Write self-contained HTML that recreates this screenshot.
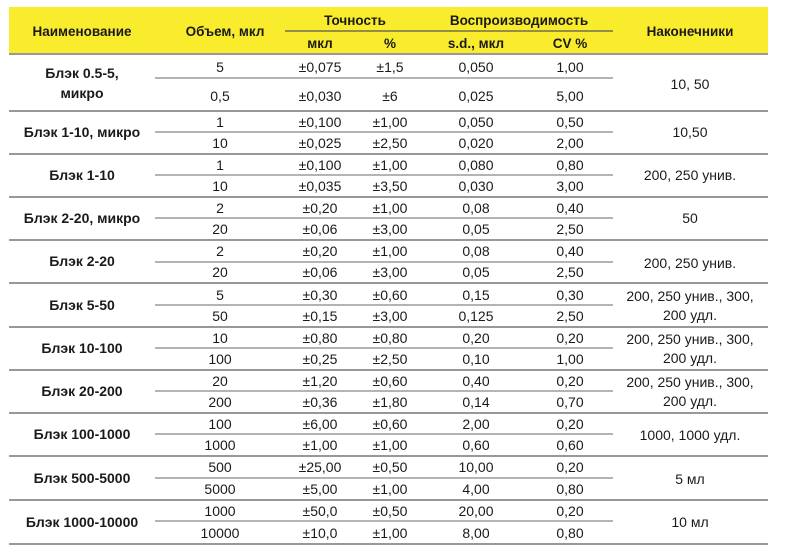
<!DOCTYPE html>
<html><head><meta charset="utf-8"><style>
html,body{margin:0;padding:0;background:#fff;}
svg{display:block;}
text{font-family:"Liberation Sans","DejaVu Sans",sans-serif;font-size:14px;fill:#1a1a1a;text-anchor:middle;}
.b{font-weight:bold;}
.h{font-size:13.5px;}
</style></head><body>
<svg width="788" height="552" viewBox="0 0 788 552" xmlns="http://www.w3.org/2000/svg">
<rect x="9" y="7" width="759" height="46" fill="#f9ec2c"/>
<line x1="285" y1="31" x2="613" y2="31" stroke="#555" stroke-width="1.2"/>
<g class="b h">
<text class="h" x="82" y="36">Наименование</text>
<text class="h" x="225" y="36">Объем, мкл</text>
<text class="h" x="355" y="25">Точность</text>
<text class="h" x="519" y="25">Воспроизводимость</text>
<text class="h" x="690" y="36">Наконечники</text>
<text class="h" x="320" y="48">мкл</text>
<text class="h" x="390" y="48">%</text>
<text class="h" x="476" y="48">s.d., мкл</text>
<text class="h" x="570" y="48">CV %</text>
</g>
<g stroke="#777" stroke-width="1.6">
<line x1="9" y1="54" x2="768" y2="54"/>
<line x1="9" y1="111" x2="768" y2="111"/>
<line x1="9" y1="154" x2="768" y2="154"/>
<line x1="9" y1="197" x2="768" y2="197"/>
<line x1="9" y1="240" x2="768" y2="240"/>
<line x1="9" y1="283" x2="768" y2="283"/>
<line x1="9" y1="327" x2="768" y2="327"/>
<line x1="9" y1="370" x2="768" y2="370"/>
<line x1="9" y1="413" x2="768" y2="413"/>
<line x1="9" y1="456" x2="768" y2="456"/>
<line x1="9" y1="500" x2="768" y2="500"/>
<line x1="9" y1="544" x2="768" y2="544"/>
</g>
<g stroke="#888" stroke-width="1.3">
<line x1="155" y1="78" x2="613" y2="78"/>
<line x1="155" y1="132" x2="613" y2="132"/>
<line x1="155" y1="175" x2="613" y2="175"/>
<line x1="155" y1="218" x2="613" y2="218"/>
<line x1="155" y1="262" x2="613" y2="262"/>
<line x1="155" y1="305" x2="613" y2="305"/>
<line x1="155" y1="348" x2="613" y2="348"/>
<line x1="155" y1="391" x2="613" y2="391"/>
<line x1="155" y1="434" x2="613" y2="434"/>
<line x1="155" y1="478" x2="613" y2="478"/>
<line x1="155" y1="521" x2="613" y2="521"/>
</g>
<text class="b" x="82" y="78">Блэк 0.5-5,</text>
<text class="b" x="82" y="98">микро</text>
<text x="220" y="72">5</text><text x="320" y="72">±0,075</text><text x="390" y="72">±1,5</text><text x="476" y="72">0,050</text><text x="570" y="72">1,00</text>
<text x="220" y="101">0,5</text><text x="320" y="101">±0,030</text><text x="390" y="101">±6</text><text x="476" y="101">0,025</text><text x="570" y="101">5,00</text>
<text x="690" y="89">10, 50</text>

<text class="b" x="82" y="137">Блэк 1-10, микро</text>
<text x="220" y="127">1</text><text x="320" y="127">±0,100</text><text x="390" y="127">±1,00</text><text x="476" y="127">0,050</text><text x="570" y="127">0,50</text>
<text x="220" y="148">10</text><text x="320" y="148">±0,025</text><text x="390" y="148">±2,50</text><text x="476" y="148">0,020</text><text x="570" y="148">2,00</text>
<text x="690" y="137">10,50</text>

<text class="b" x="82" y="180">Блэк 1-10</text>
<text x="220" y="170">1</text><text x="320" y="170">±0,100</text><text x="390" y="170">±1,00</text><text x="476" y="170">0,080</text><text x="570" y="170">0,80</text>
<text x="220" y="191">10</text><text x="320" y="191">±0,035</text><text x="390" y="191">±3,50</text><text x="476" y="191">0,030</text><text x="570" y="191">3,00</text>
<text x="690" y="180">200, 250 унив.</text>

<text class="b" x="82" y="223">Блэк 2-20, микро</text>
<text x="220" y="213">2</text><text x="320" y="213">±0,20</text><text x="390" y="213">±1,00</text><text x="476" y="213">0,08</text><text x="570" y="213">0,40</text>
<text x="220" y="234">20</text><text x="320" y="234">±0,06</text><text x="390" y="234">±3,00</text><text x="476" y="234">0,05</text><text x="570" y="234">2,50</text>
<text x="690" y="223">50</text>

<text class="b" x="82" y="266">Блэк 2-20</text>
<text x="220" y="256">2</text><text x="320" y="256">±0,20</text><text x="390" y="256">±1,00</text><text x="476" y="256">0,08</text><text x="570" y="256">0,40</text>
<text x="220" y="277">20</text><text x="320" y="277">±0,06</text><text x="390" y="277">±3,00</text><text x="476" y="277">0,05</text><text x="570" y="277">2,50</text>
<text x="690" y="268">200, 250 унив.</text>

<text class="b" x="82" y="310">Блэк 5-50</text>
<text x="220" y="300">5</text><text x="320" y="300">±0,30</text><text x="390" y="300">±0,60</text><text x="476" y="300">0,15</text><text x="570" y="300">0,30</text>
<text x="220" y="321">50</text><text x="320" y="321">±0,15</text><text x="390" y="321">±3,00</text><text x="476" y="321">0,125</text><text x="570" y="321">2,50</text>
<text x="690" y="301">200, 250 унив., 300,</text><text x="690" y="320">200 удл.</text>

<text class="b" x="82" y="353">Блэк 10-100</text>
<text x="220" y="343">10</text><text x="320" y="343">±0,80</text><text x="390" y="343">±0,80</text><text x="476" y="343">0,20</text><text x="570" y="343">0,20</text>
<text x="220" y="364">100</text><text x="320" y="364">±0,25</text><text x="390" y="364">±2,50</text><text x="476" y="364">0,10</text><text x="570" y="364">1,00</text>
<text x="690" y="344">200, 250 унив., 300,</text><text x="690" y="363">200 удл.</text>

<text class="b" x="82" y="396">Блэк 20-200</text>
<text x="220" y="386">20</text><text x="320" y="386">±1,20</text><text x="390" y="386">±0,60</text><text x="476" y="386">0,40</text><text x="570" y="386">0,20</text>
<text x="220" y="407">200</text><text x="320" y="407">±0,36</text><text x="390" y="407">±1,80</text><text x="476" y="407">0,14</text><text x="570" y="407">0,70</text>
<text x="690" y="387">200, 250 унив., 300,</text><text x="690" y="406">200 удл.</text>

<text class="b" x="82" y="439">Блэк 100-1000</text>
<text x="220" y="429">100</text><text x="320" y="429">±6,00</text><text x="390" y="429">±0,60</text><text x="476" y="429">2,00</text><text x="570" y="429">0,20</text>
<text x="220" y="450">1000</text><text x="320" y="450">±1,00</text><text x="390" y="450">±1,00</text><text x="476" y="450">0,60</text><text x="570" y="450">0,60</text>
<text x="690" y="440">1000, 1000 удл.</text>

<text class="b" x="82" y="483">Блэк 500-5000</text>
<text x="220" y="472">500</text><text x="320" y="472">±25,00</text><text x="390" y="472">±0,50</text><text x="476" y="472">10,00</text><text x="570" y="472">0,20</text>
<text x="220" y="494">5000</text><text x="320" y="494">±5,00</text><text x="390" y="494">±1,00</text><text x="476" y="494">4,00</text><text x="570" y="494">0,80</text>
<text x="690" y="484">5 мл</text>

<text class="b" x="82" y="527">Блэк 1000-10000</text>
<text x="220" y="516">1000</text><text x="320" y="516">±50,0</text><text x="390" y="516">±0,50</text><text x="476" y="516">20,00</text><text x="570" y="516">0,20</text>
<text x="220" y="538">10000</text><text x="320" y="538">±10,0</text><text x="390" y="538">±1,00</text><text x="476" y="538">8,00</text><text x="570" y="538">0,80</text>
<text x="690" y="527">10 мл</text>
</svg>
</body></html>
